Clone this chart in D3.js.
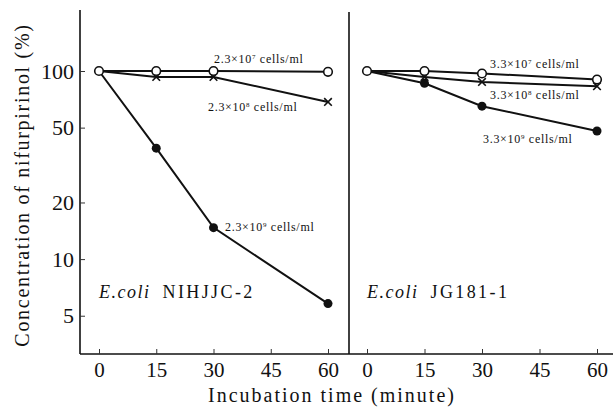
<!DOCTYPE html>
<html>
<head>
<meta charset="utf-8">
<script src="https://cdn.jsdelivr.net/npm/d3@7"></script>
<style>
  body { margin: 0; background: #fff; }
  svg text { font-family: "Liberation Serif", "DejaVu Serif", serif; fill: #111; }
  .tick line { stroke: #333; stroke-width: 1; }
</style>
</head>
<body>
<div id="chart"></div>
<script>
const times = [0, 15, 30, 60];
const xTicks = [0, 15, 30, 45, 60];
const yTicks = [5, 10, 20, 50, 100];

// left panel: E.coli NIHJJC-2
const leftOpen = [100, 100, 100, 99];      // 2.3x10^7 cells/ml
const leftCross = [100, 93, 93, 68.5];     // 2.3x10^8 cells/ml
const leftFilled = [100, 38.9, 14.7, 5.8]; // 2.3x10^9 cells/ml

// right panel: E.coli JG181-1
const rightOpen = [100, 100, 97, 90];
const rightCross = [100, 93, 87.5, 83];
const rightFilled = [100, 86, 65, 48];

const width = 613, height = 408;
const axisLeftX = 80, dividerX = 349, rightEnd = 613;
const plotTop = 10, plotBottom = 354;

const svg = d3.select("#chart").append("svg")
    .attr("width", width)
    .attr("height", height);

// y is log scale, 100 sits at y=71, ~188px per decade
const yScale = d3.scaleLog()
    .domain([3.13, 211])
    .range([plotBottom, plotTop]);

const xLeft = d3.scaleLinear().domain([0, 60]).range([99, 328]);
const xRight = d3.scaleLinear().domain([0, 60]).range([367, 597]);

// axes lines
svg.append("line")
    .attr("x1", axisLeftX).attr("x2", axisLeftX)
    .attr("y1", plotTop).attr("y2", plotBottom)
    .attr("stroke", "#111").attr("stroke-width", 1.6);

svg.append("line")
    .attr("x1", dividerX).attr("x2", dividerX)
    .attr("y1", 12).attr("y2", plotBottom)
    .attr("stroke", "#111").attr("stroke-width", 1.6);

svg.append("line")
    .attr("x1", axisLeftX).attr("x2", rightEnd)
    .attr("y1", plotBottom).attr("y2", plotBottom)
    .attr("stroke", "#111").attr("stroke-width", 1.6);

// y axis
const yAxis = svg.append("g")
    .attr("transform", `translate(${axisLeftX},0)`)
    .call(d3.axisLeft(yScale)
        .tickValues(yTicks)
        .tickFormat(d3.format("d"))
        .tickSizeInner(-5)
        .tickSizeOuter(0)
        .tickPadding(6));
yAxis.select(".domain").remove();
yAxis.selectAll("text")
    .style("font-size", "22px");

// x axes
[xLeft, xRight].forEach(xs => {
    const g = svg.append("g")
        .attr("transform", `translate(0,${plotBottom})`)
        .call(d3.axisBottom(xs)
            .tickValues(xTicks)
            .tickSizeInner(-5)
            .tickSizeOuter(0)
            .tickPadding(8));
    g.select(".domain").remove();
    g.selectAll("text")
        .style("font-size", "21px");
});

// series
function drawSeries(xs, values, marker) {
    const pts = times.map((t, i) => [xs(t), yScale(values[i])]);
    svg.append("path")
        .datum(pts)
        .attr("d", d3.line())
        .attr("fill", "none")
        .attr("stroke", "#111")
        .attr("stroke-width", 2);

    pts.forEach((p, i) => {
        if (i === 0 && marker !== "open") return;
        if (marker === "open") {
            svg.append("circle")
                .attr("cx", p[0]).attr("cy", p[1]).attr("r", 4.3)
                .attr("fill", "#fff").attr("stroke", "#111").attr("stroke-width", 1.6);
        } else if (marker === "filled") {
            svg.append("circle")
                .attr("cx", p[0]).attr("cy", p[1]).attr("r", 4.5)
                .attr("fill", "#111");
        } else {
            const s = 3.8;
            svg.append("path")
                .attr("d", `M${p[0]-s},${p[1]-s}L${p[0]+s},${p[1]+s}M${p[0]-s},${p[1]+s}L${p[0]+s},${p[1]-s}`)
                .attr("stroke", "#111").attr("stroke-width", 1.6);
        }
    });
}

drawSeries(xLeft, leftFilled, "filled");
drawSeries(xLeft, leftCross, "cross");
drawSeries(xLeft, leftOpen, "open");
drawSeries(xRight, rightFilled, "filled");
drawSeries(xRight, rightCross, "cross");
drawSeries(xRight, rightOpen, "open");

// series labels
function cellLabel(x, y, base, exp) {
    const t = svg.append("text")
        .attr("x", x).attr("y", y)
        .style("font-size", "12px")
        .style("letter-spacing", "0.7px");
    t.append("tspan").text(base + "\u00d710");
    t.append("tspan").attr("dy", -4).style("font-size", "7px").text(exp);
    t.append("tspan").attr("dy", 4).text(" cells/ml");
}

cellLabel(214, 63, "2.3", "7");
cellLabel(208, 111, "2.3", "8");
cellLabel(225, 231, "2.3", "9");
cellLabel(490, 68, "3.3", "7");
cellLabel(490, 99, "3.3", "8");
cellLabel(483, 143, "3.3", "9");

// strain names
function strainLabel(x, name) {
    const t = svg.append("text")
        .attr("x", x).attr("y", 298)
        .style("font-size", "18px");
    t.append("tspan").style("font-style", "italic").style("letter-spacing", "1.5px").text("E.coli");
    t.append("tspan").attr("dx", 12).style("letter-spacing", "2.4px").text(name);
}
strainLabel(99, "NIHJJC-2");
strainLabel(367, "JG181-1");

// axis titles
svg.append("text")
    .attr("transform", `translate(29,${185}) rotate(-90)`)
    .attr("text-anchor", "middle")
    .style("font-size", "20px")
    .style("letter-spacing", "1.7px")
    .text("Concentration of nifurpirinol (%)");

svg.append("text")
    .attr("x", 332)
    .attr("y", 402)
    .attr("text-anchor", "middle")
    .style("font-size", "20px")
    .style("letter-spacing", "2px")
    .text("Incubation time (minute)");
</script>
</body>
</html>
